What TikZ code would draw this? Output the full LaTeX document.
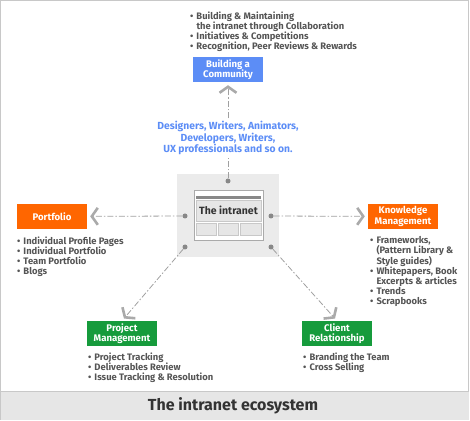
\documentclass[tikz,border=0pt]{standalone}
\usepackage{fontspec}
\setmainfont{Fira Sans}
\usepackage{xcolor}
\usepackage{tikz}
\usetikzlibrary{positioning,arrows.meta,calc}
\definecolor{ink}{HTML}{555555}
\definecolor{dark}{HTML}{333333}
\definecolor{cmblue}{HTML}{5C8DF6}
\definecolor{kmorange}{HTML}{FF6600}
\definecolor{pmgreen}{HTML}{169B3C}
\definecolor{chev}{HTML}{AAAAAA}
\definecolor{lnkgray}{HTML}{A0A0A0}
\definecolor{pindot}{HTML}{888888}
\definecolor{panel}{HTML}{EBEBEB}
\definecolor{band}{HTML}{E6E6E6}
\definecolor{frame}{HTML}{C8C8C8}
\newcommand{\bul}{\makebox[6.5pt][l]{\textbullet}}
\newcommand{\ind}{\hspace*{6.5pt}}

\begin{document}
\begin{tikzpicture}[
  x=1pt, y=1pt,
  font=\fontsize{9.4}{10}\selectfont\bfseries,
  tag/.style={fill=#1, text=white, minimum width=70pt, minimum height=25pt, align=center, inner sep=0pt,
    font=\fontsize{9.6}{10.5}\selectfont\bfseries},
  lst/.style={text=ink, align=left, inner sep=0pt},
  pin/.style={circle, fill=pindot, inner sep=0pt, minimum size=5pt},
  cell/.style={draw=frame, fill=band, inner sep=0pt},
  lnk/.style={draw=lnkgray, line width=0.8pt, dash pattern=on 6pt off 2pt on 1.5pt off 2pt},
  ar/.style={lnk, -{Straight Barb[length=6pt,width=17pt,line width=2.6pt,color=chev]}, shorten >=3pt}
]
\path[use as bounding box] (0,0) rectangle (470,420);
\draw[frame] (0.5,0.5) rectangle (468.5,419.5);
\fill[band] (0.5,0.5) rectangle (468.5,29);
\draw[frame] (0.5,29) -- (468.5,29);
\node[text=dark, font=\fontsize{16}{16}\selectfont\bfseries] (ttl) at (233,14) {The intranet ecosystem};

% the intranet in the middle
\node[fill=panel, minimum width=102pt, minimum height=83pt, inner sep=0pt] (hub) at (228,204.5) {};
\node[draw=chev, fill=white, minimum width=69pt, minimum height=50pt, inner sep=0pt] (win) at (228.5,205) {};
\fill[pindot] ($(win.north west)+(2,-6)$) rectangle ($(win.north east)+(-2,-9)$);
\node[cell, minimum width=65pt, minimum height=21pt, text=dark, font=\fontsize{10.5}{11}\selectfont\bfseries] (wtx) at (228.5,209.5) {The intranet};
\node[cell, minimum width=20pt, minimum height=12pt] (c1) at (206,191) {};
\node[cell, minimum width=20pt, minimum height=12pt] (c2) at (228,191) {};
\node[cell, minimum width=21pt, minimum height=12pt] (c3) at (250.5,191) {};

\node[pin] (dt) at (228,239) {};
\node[pin] (dl) at (185,204) {};
\node[pin] (dr) at (271,204) {};
\node[pin] (dbl) at (185,173) {};
\node[pin] (dbr) at (271,173) {};

% the five areas
\node[tag=cmblue] (cm) at (228,350.5) {Building a\\Community};
\node[tag=kmorange] (pf) at (52,203.5) {Portfolio};
\node[tag=kmorange] (km) at (403,203.5) {Knowledge\\Management};
\node[tag=pmgreen] (pm) at (122,86.5) {Project\\Management};
\node[tag=pmgreen] (cr) at (337,86.5) {Client\\Relationship};

\node[text=cmblue, align=center, inner sep=3pt, font=\fontsize{10.3}{11.2}\selectfont\bfseries] (who) at (228,282)
  {Designers, Writers, Animators,\\Developers, Writers,\\UX professionals and so on.};

\node[lst, above=5pt of cm.north west, anchor=south west, xshift=-3pt] (lcm)
  {\bul Building \& Maintaining\\\ind the intranet through Collaboration\\\bul Initiatives \& Competitions\\\bul Recognition, Peer Reviews \& Rewards};
\node[lst, below=7pt of pf.south west, anchor=north west] (lpf)
  {\bul Individual Profile Pages\\\bul Individual Portfolio\\\bul Team Portfolio\\\bul Blogs};
\node[lst, below=7pt of km.south west, anchor=north west, xshift=2pt] (lkm)
  {\bul Frameworks,\\\ind (Pattern Library \&\\\ind Style guides)\\\bul Whitepapers, Book\\\ind Excerpts \& articles\\\bul Trends\\\bul Scrapbooks};
\node[lst, below=6pt of pm.south west, anchor=north west, xshift=1pt] (lpm)
  {\bul Project Tracking\\\bul Deliverables Review\\\bul Issue Tracking \& Resolution};
\node[lst, below=6pt of cr.south west, anchor=north west, xshift=1pt] (lcr)
  {\bul Branding the Team\\\bul Cross Selling};

\draw[lnk] (dt) -- (who);
\draw[ar] (who) -- (cm);
\draw[ar] (dl) -- (pf);
\draw[ar] (dr) -- (km);
\draw[ar] (dbl) -- (pm.north);
\draw[ar] (dbr) -- (cr.north);
\end{tikzpicture}
\end{document}
